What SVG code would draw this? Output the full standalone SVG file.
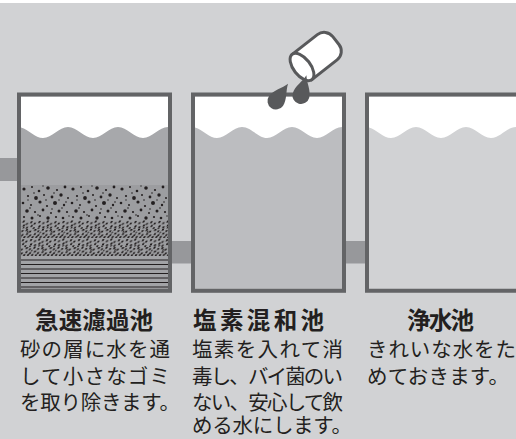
<svg xmlns="http://www.w3.org/2000/svg" width="516" height="439" viewBox="0 0 516 439">
  <style>
    .border { fill: none; stroke: #636466; stroke-width: 4; }
    .inner { fill: #ffffff; }
    .pipe { fill: #97989b; }
    .ink { fill: #58595b; }
    .title { font-family: "Noto Sans CJK JP", "Noto Sans", sans-serif; font-size: 23.5px; font-weight: 700; fill: #231f20; }
    .body { font-family: "Noto Sans CJK JP", "Noto Sans", sans-serif; font-size: 20.5px; fill: #231f20; }
    .strata { stroke: #231f20; stroke-width: 1; }
  </style>
  <defs>
    <clipPath id="clip-t1"><rect x="21" y="96.5" width="147" height="192.5"/></clipPath>
    <clipPath id="clip-t2"><rect x="195" y="96.5" width="147" height="192.5"/></clipPath>
    <clipPath id="clip-t3"><rect x="369" y="96.5" width="147" height="192.5"/></clipPath>
    <!-- sand: scattered round grains -->
    <pattern id="sand" patternUnits="userSpaceOnUse" x="21" y="185" width="49" height="35">
      <rect width="49" height="35" fill="#9c9da0"/>
      <g fill="#231f20">
        <circle cx="3" cy="4" r="1.6"/><circle cx="11" cy="2" r="1"/><circle cx="18" cy="6" r="1.3"/>
        <circle cx="27" cy="3" r="1.8"/><circle cx="36" cy="5" r="1.1"/><circle cx="44" cy="2" r="1.4"/>
        <circle cx="7" cy="11" r="1.1"/><circle cx="15" cy="13" r="1.9"/><circle cx="23" cy="10" r="1"/>
        <circle cx="31" cy="12" r="1.4"/><circle cx="40" cy="10" r="1.7"/><circle cx="47" cy="13" r="1"/>
        <circle cx="2" cy="18" r="1.3"/><circle cx="10" cy="20" r="1"/><circle cx="19" cy="17" r="1.6"/>
        <circle cx="26" cy="21" r="1.1"/><circle cx="34" cy="18" r="2"/><circle cx="43" cy="20" r="1.2"/>
        <circle cx="6" cy="26" r="1.8"/><circle cx="14" cy="27" r="1.1"/><circle cx="22" cy="25" r="1.4"/>
        <circle cx="30" cy="28" r="1"/><circle cx="38" cy="26" r="1.5"/><circle cx="46" cy="27" r="1.1"/>
        <circle cx="3" cy="32" r="1.1"/><circle cx="11" cy="33" r="1.5"/><circle cx="19" cy="31" r="1"/>
        <circle cx="27" cy="33" r="1.7"/><circle cx="35" cy="32" r="1.1"/><circle cx="42" cy="33" r="1.3"/>
        <circle cx="13" cy="8" r="0.8"/><circle cx="33" cy="8" r="0.8"/><circle cx="25" cy="15" r="0.8"/>
        <circle cx="45" cy="17" r="0.8"/><circle cx="9" cy="23" r="0.8"/><circle cx="41" cy="23" r="0.8"/>
        <circle cx="17" cy="30" r="0.8"/><circle cx="31" cy="24" r="0.8"/><circle cx="7" cy="15" r="0.7"/>
        <circle cx="38" cy="15" r="0.7"/><circle cx="22" cy="1" r="0.7"/><circle cx="48" cy="31" r="0.7"/>
      </g>
    </pattern>
    <!-- gravel: dense fine grains in slanted streaks -->
    <pattern id="gravel" patternUnits="userSpaceOnUse" x="21" y="220" width="24" height="18" patternTransform="skewX(-25)">
      <rect x="-2" y="0" width="28" height="18" fill="#9c9da0"/>
      <g fill="#231f20">
        <rect x="1" y="1" width="2" height="2"/><rect x="5.5" y="2.2" width="1.9" height="1.9"/>
        <rect x="9" y="0.5" width="2" height="2"/><rect x="13.4" y="3" width="1.9" height="1.9"/>
        <rect x="17" y="1.2" width="2" height="2"/><rect x="21" y="2.6" width="1.9" height="1.9"/>
        <rect x="3" y="5.3" width="2" height="2"/><rect x="7.4" y="6.3" width="1.9" height="1.9"/>
        <rect x="11" y="4.6" width="2" height="2"/><rect x="15.2" y="6.8" width="1.9" height="1.9"/>
        <rect x="19" y="5" width="2" height="2"/><rect x="22.3" y="7.2" width="1.6" height="1.9"/>
        <rect x="0.5" y="9" width="2" height="2"/><rect x="4.2" y="10.3" width="1.9" height="1.9"/>
        <rect x="8" y="8.6" width="2" height="2"/><rect x="12.3" y="10" width="1.9" height="1.9"/>
        <rect x="16.1" y="9.1" width="2" height="2"/><rect x="20.2" y="10.6" width="1.9" height="1.9"/>
        <rect x="2" y="13.1" width="2" height="2"/><rect x="6.1" y="14.2" width="1.9" height="1.9"/>
        <rect x="10.3" y="12.6" width="2" height="2"/><rect x="14" y="14.1" width="1.9" height="1.9"/>
        <rect x="18.2" y="13" width="2" height="2"/><rect x="22" y="14.5" width="1.8" height="1.9"/>
        <rect x="1.2" y="16.2" width="1.9" height="1.8"/><rect x="5" y="16" width="1.9" height="1.9"/>
        <rect x="9.2" y="16" width="1.9" height="1.9"/><rect x="13" y="16.4" width="1.8" height="1.6"/>
        <rect x="17" y="16.2" width="1.9" height="1.8"/><rect x="20.8" y="16" width="1.8" height="1.8"/>
        <rect x="12" y="7" width="1.5" height="1.5"/><rect x="3.2" y="7.6" width="1.5" height="1.5"/>
        <rect x="7" y="11.8" width="1.4" height="1.4"/><rect x="18" y="11" width="1.4" height="1.4"/>
      </g>
    </pattern>
    <path id="drop" d="M0,-21 C2,-14 8.5,-7.5 8.5,0 A8.5,8.5 0 0 1 -8.5,0 C-8.5,-7.5 -2,-14 0,-21 Z"/>
  </defs>

  <!-- backdrop -->
  <rect width="516" height="439" fill="#ffffff"/>
  <rect y="3" width="516" height="436" fill="#d1d2d4"/>

  <!-- pipes between the basins -->
  <g id="connectors">
    <rect class="pipe" x="0" y="158" width="17" height="23"/>
    <rect class="pipe" x="172" y="241" width="19" height="22.5"/>
    <rect class="pipe" x="346" y="241" width="19" height="22.5"/>
  </g>

  <!-- rapid sand filter -->
  <g id="tank-rapid-filter">
    <g clip-path="url(#clip-t1)">
      <rect class="inner" x="21" y="96.5" width="147" height="192.5"/>
      <path fill="#a7a8ab" d="M18,127 c9,0 16,11 25,11 c9,0 16,-11 25,-11 c9,0 16,11 25,11 c9,0 16,-11 25,-11 c9,0 16,11 25,11 c9,0 16,-11 25,-11 V291 H18 Z"/>
      <rect x="21" y="185" width="147" height="35" fill="url(#sand)"/>
      <rect x="21" y="220" width="147" height="36" fill="url(#gravel)"/>
      <rect x="21" y="256" width="147" height="33" fill="#a2a3a6"/>
      <g class="strata">
        <line x1="21" y1="260" x2="168" y2="260"/>
        <line x1="21" y1="264.5" x2="168" y2="264.5"/>
        <line x1="21" y1="269" x2="168" y2="269"/>
        <line x1="21" y1="273.5" x2="168" y2="273.5"/>
        <line x1="21" y1="278" x2="168" y2="278"/>
        <line x1="21" y1="282.5" x2="168" y2="282.5"/>
        <line x1="21" y1="287" x2="168" y2="287"/>
      </g>
    </g>
    <rect class="border" x="19" y="94.5" width="151" height="196.3"/>
  </g>

  <!-- chlorine mixing basin -->
  <g id="tank-chlorine">
    <g clip-path="url(#clip-t2)">
      <rect class="inner" x="195" y="96.5" width="147" height="192.5"/>
      <path fill="#bcbdc0" d="M192,127 c9,0 16,11 25,11 c9,0 16,-11 25,-11 c9,0 16,11 25,11 c9,0 16,-11 25,-11 c9,0 16,11 25,11 c9,0 16,-11 25,-11 V291 H192 Z"/>
    </g>
    <rect class="border" x="193" y="94.5" width="151" height="196.3"/>
    <!-- chlorine container tipping out drops -->
    <g transform="translate(302,67) rotate(-38)" stroke="#58595b" stroke-width="3" fill="#ffffff">
      <path d="M0,-16 H32 A11,11 0 0 1 43,-5 V5 A11,11 0 0 1 32,16 H0 Z"/>
      <ellipse cx="0" cy="0" rx="8.5" ry="16"/>
    </g>
    <use href="#drop" class="ink" transform="translate(276,101) rotate(35)"/>
    <use href="#drop" class="ink" transform="translate(301,95.5) rotate(15)"/>
  </g>

  <!-- clear water reservoir -->
  <g id="tank-clear-water">
    <g clip-path="url(#clip-t3)">
      <rect class="inner" x="369" y="96.5" width="147" height="192.5"/>
      <path fill="#d1d2d4" d="M366,127 c9,0 16,11 25,11 c9,0 16,-11 25,-11 c9,0 16,11 25,11 c9,0 16,-11 25,-11 c9,0 16,11 25,11 c9,0 16,-11 25,-11 V291 H366 Z"/>
    </g>
    <path class="border" d="M520,94.5 H367 V290.8 H520"/>
  </g>

  <!-- captions -->
  <g id="labels">
    <text class="title" x="35" y="329" textLength="118" lengthAdjust="spacing">急速濾過池</text>
    <text class="title" x="193" y="329" textLength="131" lengthAdjust="spacing">塩素混和池</text>
    <text class="title" x="407" y="329" textLength="67" lengthAdjust="spacing">浄水池</text>

    <text class="body" x="20" y="357" textLength="150" lengthAdjust="spacing">砂の層に水を通</text>
    <text class="body" x="20" y="383.5" textLength="150" lengthAdjust="spacing">して小さなゴミ</text>
    <text class="body" x="20" y="410" textLength="160" lengthAdjust="spacing">を取り除きます。</text>

    <text class="body" x="192" y="357" textLength="151" lengthAdjust="spacing">塩素を入れて消</text>
    <text class="body" x="192" y="383.5" textLength="151" lengthAdjust="spacing">毒し、バイ菌のい</text>
    <text class="body" x="192" y="410" textLength="151" lengthAdjust="spacing">ない、安心して飲</text>
    <text class="body" x="192" y="433" textLength="160" lengthAdjust="spacing">める水にします。</text>

    <text class="body" x="367" y="357" textLength="149" lengthAdjust="spacing">きれいな水をた</text>
    <text class="body" x="367" y="383.5" textLength="142" lengthAdjust="spacing">めておきます。</text>
  </g>
</svg>
